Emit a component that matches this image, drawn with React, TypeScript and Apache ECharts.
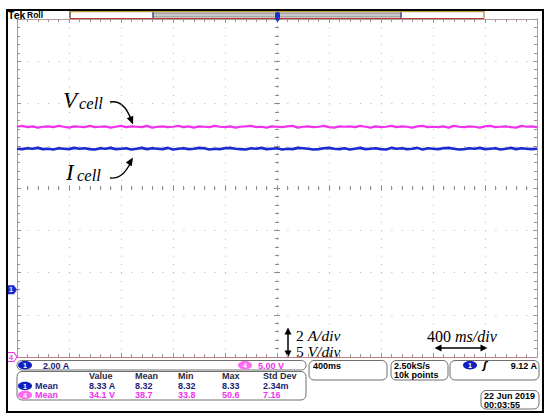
import React, { useEffect, useRef } from "react";
import * as echarts from "echarts";

// Oscilloscope capture: Tek, Roll mode, 400 ms/div, CH1 2 A/div, CH4 5 V/div
const CH1_SCALE = 2; // A/div
const CH4_SCALE = 5; // V/div
const CH1_GROUND_DIV = -2.41; // ground marker "1" position (div from centre)
const CH4_GROUND_DIV = -4; // ground marker "4" position
const T_START = -2; // s
const T_END = 2; // s

// Vcell (V) samples across the 4 s record
const vcell = [
  27.25, 27.35, 27.2, 27.3, 27.15, 27.25, 27.3, 27.2, 27.35, 27.25, 27.15, 27.3, 27.25, 27.2, 27.35,
  27.2, 27.25, 27.3, 27.15, 27.25, 27.35, 27.2, 27.3, 27.25, 27.2, 27.35, 27.15, 27.25, 27.3, 27.2,
  27.25, 27.35, 27.2, 27.3, 27.15, 27.3, 27.25, 27.2, 27.35, 27.25, 27.2, 27.3, 27.15, 27.25, 27.3,
  27.35, 27.2, 27.25, 27.15, 27.3, 27.25, 27.2, 27.3, 27.35, 27.15, 27.25, 27.3, 27.2, 27.25, 27.35,
  27.2, 27.15, 27.3, 27.25, 27.3, 27.2, 27.35, 27.25, 27.15, 27.3, 27.2, 27.25, 27.35, 27.2, 27.3,
  27.25, 27.15, 27.3, 27.35, 27.2, 27.25, 27.2, 27.3, 27.15, 27.35, 27.25, 27.2, 27.3, 27.25, 27.15,
  27.3, 27.35, 27.2, 27.25, 27.3, 27.2, 27.15, 27.35, 27.25, 27.3, 27.2,
];
// Icell (A) samples across the 4 s record
const icell = [
  6.68, 6.66, 6.7, 6.68, 6.72, 6.66, 6.68, 6.64, 6.7, 6.68, 6.66, 6.72, 6.68, 6.7, 6.66, 6.64, 6.7,
  6.68, 6.72, 6.66, 6.68, 6.7, 6.64, 6.68, 6.72, 6.66, 6.7, 6.68, 6.66, 6.72, 6.64, 6.68, 6.7, 6.66,
  6.68, 6.72, 6.7, 6.64, 6.68, 6.66, 6.7, 6.72, 6.68, 6.66, 6.64, 6.7, 6.68, 6.72, 6.66, 6.68, 6.7,
  6.64, 6.68, 6.66, 6.72, 6.7, 6.68, 6.64, 6.66, 6.7, 6.72, 6.68, 6.66, 6.7, 6.64, 6.68, 6.72, 6.66,
  6.68, 6.7, 6.66, 6.64, 6.72, 6.68, 6.7, 6.66, 6.68, 6.72, 6.64, 6.7, 6.68, 6.66, 6.7, 6.72, 6.68,
  6.64, 6.66, 6.7, 6.68, 6.72, 6.66, 6.68, 6.7, 6.64, 6.68, 6.72, 6.66, 6.7, 6.68, 6.66, 6.68,
];

const measHeaders = ["Value", "Mean", "Min", "Max", "Std Dev"];
const ch1Meas = ["8.33 A", "8.32", "8.32", "8.33", "2.34m"];
const ch4Meas = ["34.1 V", "38.7", "33.8", "50.6", "7.16"];
const ch1ScaleLabel = "2.00 A";
const ch4ScaleLabel = "5.00 V";
const timebaseLabel = "400ms";
const sampleLabels = ["2.50kS/s", "10k points"];
const triggerLabel = "9.12 A";
const dateLabels = ["22 Jun 2019", "00:03:55"];

const PINK = "#f032f0";
const BLUE = "#1a2ad0";
const NAVY = "#1c1c78";
const SANS = "Liberation Sans";
const SERIF = "Liberation Serif";

const toSeries = (vals: number[], scale: number, ground: number) =>
  vals.map((v, i) => [T_START + ((T_END - T_START) * i) / (vals.length - 1), v / scale + ground]);

function arrowHead(tip: [number, number], dir: [number, number], len = 8, half = 3.5) {
  const n = Math.hypot(dir[0], dir[1]);
  const dx = dir[0] / n, dy = dir[1] / n;
  const bx = tip[0] - dx * len, by = tip[1] - dy * len;
  return {
    type: "polygon",
    shape: { points: [tip, [bx - dy * half, by + dx * half], [bx + dy * half, by - dx * half]] },
    style: { fill: "#000" },
  };
}

const txt = (x: number, y: number, text: string, fill: string, extra: any = {}) => ({
  type: "text",
  x,
  y,
  style: {
    text,
    fill,
    font: `bold 9px ${SANS}`,
    verticalAlign: "middle",
    ...extra,
  },
});

const pill = (cx: number, cy: number, label: string, fill: string) => [
  { type: "ellipse", shape: { cx, cy, rx: 7, ry: 4.2 }, style: { fill } },
  {
    type: "text",
    x: cx,
    y: cy,
    style: { text: label, fill: "#fff", font: `bold 7px ${SANS}`, align: "center", verticalAlign: "middle" },
  },
];

const box = (x: number, y: number, w: number, h: number, r = 5) => ({
  type: "rect",
  shape: { x, y, width: w, height: h, r },
  style: { fill: "#fff", stroke: "#707070", lineWidth: 1 },
});

export default function App() {
  const ref = useRef<HTMLDivElement>(null);
  useEffect(() => {
    const chart = echarts.init(ref.current!, null, { renderer: "svg" });
    const tickColor = "#a09090";
    const centerTick = "#909090";
    const baseX = {
      type: "value",
      min: T_START,
      max: T_END,
      interval: 0.4,
      axisLabel: { show: false },
      splitLine: { show: false },
    };
    const baseY = {
      type: "value",
      min: -4,
      max: 4,
      interval: 1,
      axisLabel: { show: false },
      splitLine: { show: false },
    };
    const ticks = (inside: boolean, len: number, color = tickColor) => ({
      axisTick: { show: true, inside, length: len, lineStyle: { color } },
      minorTick: { show: true, splitNumber: 5, length: len - 1, lineStyle: { color } },
    });

    const colCols = [89, 135, 178, 222, 263];
    const graphic: any[] = [
      // outer frame
      { type: "rect", shape: { x: 7, y: 10, width: 536, height: 402 }, style: { fill: "none", stroke: "#000", lineWidth: 2 }, z: 100 },
      // Tek Roll
      { type: "text", x: 8, y: 14.5, style: { text: "Tek", fill: "#000", font: `bold 10.5px ${SANS}`, verticalAlign: "middle" } },
      { type: "text", x: 27, y: 14.5, style: { text: "Roll", fill: "#000", font: `bold 8.5px ${SANS}`, verticalAlign: "middle" } },
      { type: "line", shape: { x1: 70, y1: 10, x2: 70, y2: 18.5 }, style: { stroke: "#000", lineWidth: 1 } },
      // record bar
      { type: "line", shape: { x1: 70, y1: 11.5, x2: 484, y2: 11.5 }, style: { stroke: "#c89a40", lineWidth: 1.5 } },
      { type: "line", shape: { x1: 70, y1: 18.5, x2: 484, y2: 18.5 }, style: { stroke: "#c03838", lineWidth: 1 } },
      { type: "line", shape: { x1: 484, y1: 10, x2: 484, y2: 18.5 }, style: { stroke: "#b06040", lineWidth: 1 } },
      { type: "rect", shape: { x: 153, y: 13, width: 248, height: 4 }, style: { fill: "#c8c8c8", stroke: "#8a8a8a", lineWidth: 1 } },
      { type: "line", shape: { x1: 153, y1: 12, x2: 153, y2: 18 }, style: { stroke: "#304090", lineWidth: 1.2 } },
      { type: "line", shape: { x1: 401, y1: 12, x2: 401, y2: 18 }, style: { stroke: "#304090", lineWidth: 1.2 } },
      { type: "rect", shape: { x: 275, y: 12, width: 5, height: 7, r: 2 }, style: { fill: "#2030c8" }, z: 50 },
      { type: "polygon", shape: { points: [[274.5, 18.5], [280.5, 18.5], [277.5, 22]] }, style: { fill: "#2030c8" }, z: 50 },

      // annotations
      { type: "text", x: 63, y: 100.5, style: { text: "V", fill: "#000", font: `italic 23px ${SERIF}`, verticalAlign: "middle" } },
      { type: "text", x: 79, y: 103.5, style: { text: "cell", fill: "#000", font: `italic 16.5px ${SERIF}`, verticalAlign: "middle" } },
      { type: "text", x: 66, y: 172.5, style: { text: "I", fill: "#000", font: `italic 23px ${SERIF}`, verticalAlign: "middle" } },
      { type: "text", x: 77, y: 175.5, style: { text: "cell", fill: "#000", font: `italic 16.5px ${SERIF}`, verticalAlign: "middle" } },
      { type: "bezierCurve", shape: { x1: 110, y1: 102, cpx1: 121, cpy1: 100, cpx2: 127, cpy2: 109, x2: 130.5, y2: 118 }, style: { stroke: "#000", lineWidth: 1.4, fill: "none" } },
      arrowHead([133, 124.5], [4, 10]),
      { type: "bezierCurve", shape: { x1: 110, y1: 178, cpx1: 121, cpy1: 179, cpx2: 126, cpy2: 171, x2: 130, y2: 164 }, style: { stroke: "#000", lineWidth: 1.4, fill: "none" } },
      arrowHead([133, 157.5], [5, -8]),

      // scale annotations
      { type: "line", shape: { x1: 288, y1: 332, x2: 288, y2: 353 }, style: { stroke: "#000", lineWidth: 1.5 } },
      arrowHead([288, 327.5], [0, -1], 7, 3.5),
      arrowHead([288, 357.5], [0, 1], 7, 3.5),
      {
        type: "text", x: 296, y: 335,
        style: {
          text: "{n|2 }{i|A/div}", verticalAlign: "middle",
          rich: { n: { font: `15.5px ${SERIF}`, fill: "#000" }, i: { font: `italic 15.5px ${SERIF}`, fill: "#000" } },
        },
      },
      {
        type: "text", x: 296, y: 351,
        style: {
          text: "{n|5 }{i|V/div}", verticalAlign: "middle",
          rich: { n: { font: `15.5px ${SERIF}`, fill: "#000" }, i: { font: `italic 15.5px ${SERIF}`, fill: "#000" } },
        },
      },
      { type: "line", shape: { x1: 440, y1: 348, x2: 482, y2: 348 }, style: { stroke: "#000", lineWidth: 1.5 } },
      arrowHead([434.5, 348], [-1, 0], 7, 3.5),
      arrowHead([487.5, 348], [1, 0], 7, 3.5),
      {
        type: "text", x: 427, y: 336,
        style: {
          text: "{n|400 }{i|ms/div}", verticalAlign: "middle",
          rich: { n: { font: `16px ${SERIF}`, fill: "#000" }, i: { font: `italic 16px ${SERIF}`, fill: "#000" } },
        },
      },

      // bottom info area
      box(17, 360.5, 289, 9.5, 4.5),
      ...pill(25, 365.3, "1", "#1020c0"),
      txt(43, 365.5, ch1ScaleLabel, NAVY),
      ...pill(245, 365.3, "4", "#ff6af0"),
      txt(258, 365.5, ch4ScaleLabel, PINK),
      box(17, 371.5, 289, 28.5, 5),
      ...measHeaders.map((h, i) => txt(colCols[i], 376.3, h, "#2a2a40")),
      ...pill(25, 386, "1", "#1020c0"),
      txt(35, 386, "Mean", NAVY),
      ...ch1Meas.map((v, i) => txt(colCols[i], 386, v, NAVY)),
      ...pill(25, 395, "4", "#ff6af0"),
      txt(35, 395, "Mean", PINK),
      ...ch4Meas.map((v, i) => txt(colCols[i], 395, v, PINK)),
      box(309, 360.5, 78, 19.5, 5),
      txt(313, 365.5, timebaseLabel, "#000"),
      box(391, 360.5, 57, 19.5, 5),
      txt(394, 365.5, sampleLabels[0], "#000"),
      txt(394, 374.5, sampleLabels[1], "#000"),
      box(450, 360.5, 89, 19.5, 5),
      ...pill(470, 365.3, "1", "#1020c0"),
      txt(483, 365.5, "ʃ", "#000", { font: `italic bold 10px DejaVu Sans` }),
      txt(537, 365.5, triggerLabel, "#000", { align: "right" }),
      box(481, 390.5, 58, 18.5, 5),
      txt(484, 395.5, dateLabels[0], "#000"),
      txt(484, 404.5, dateLabels[1], "#000"),
    ];

    chart.setOption({
      animation: false,
      backgroundColor: "#fff",
      grid: { left: 17, top: 19, width: 520, height: 338, show: false },
      xAxis: [
        {
          ...baseX,
          position: "bottom",
          axisLine: { onZero: false, lineStyle: { color: "#c08080", width: 1 } },
          ...ticks(true, 4),
          splitLine: { show: true, lineStyle: { color: "#b4b4b4", width: 1, type: [1, 7.45] } },
        },
        { ...baseX, position: "top", axisLine: { onZero: false, lineStyle: { color: "#b09a9a" } }, ...ticks(true, 4) },
        { ...baseX, position: "bottom", axisLine: { onZero: true, onZeroAxisIndex: 0, lineStyle: { color: "#c0c0c0", type: [1, 9.4] } }, ...ticks(true, 3, centerTick) },
        { ...baseX, position: "bottom", axisLine: { onZero: true, onZeroAxisIndex: 0, show: false }, ...ticks(false, 3, centerTick) },
      ],
      yAxis: [
        {
          ...baseY,
          position: "left",
          axisLine: { onZero: false, lineStyle: { color: "#b09a9a" } },
          ...ticks(true, 4),
          splitLine: { show: true, lineStyle: { color: "#b4b4b4", width: 1, type: [1, 9.4] } },
        },
        { ...baseY, position: "right", axisLine: { onZero: false, lineStyle: { color: "#b09a9a" } }, ...ticks(true, 4) },
        { ...baseY, position: "left", axisLine: { onZero: true, onZeroAxisIndex: 0, lineStyle: { color: "#c0c0c0", type: [1, 7.45] } }, ...ticks(true, 3, centerTick) },
        { ...baseY, position: "left", axisLine: { onZero: true, onZeroAxisIndex: 0, show: false }, ...ticks(false, 3, centerTick) },
      ],
      series: [
        {
          type: "line",
          name: "Vcell",
          xAxisIndex: 0,
          yAxisIndex: 0,
          data: toSeries(vcell, CH4_SCALE, CH4_GROUND_DIV),
          showSymbol: false,
          lineStyle: { color: PINK, width: 2.2 },
          z: 5,
          markPoint: {
            symbol: "path://M0,0 L7,0 L10,5 L7,10 L0,10 Z",
            symbolSize: [10, 9],
            symbolOffset: [-5, 0],
            itemStyle: { color: "#fff", borderColor: PINK, borderWidth: 1 },
            label: { show: true, formatter: "4", color: PINK, fontSize: 7, fontWeight: "bold", fontFamily: SANS, offset: [-1, 0] },
            data: [{ coord: [T_START, CH4_GROUND_DIV] }],
          },
        },
        {
          type: "line",
          name: "Icell",
          xAxisIndex: 0,
          yAxisIndex: 0,
          data: toSeries(icell, CH1_SCALE, CH1_GROUND_DIV),
          showSymbol: false,
          lineStyle: { color: BLUE, width: 2.6 },
          z: 6,
          markPoint: {
            symbol: "path://M0,0 L7,0 L10,5 L7,10 L0,10 Z",
            symbolSize: [10, 9],
            symbolOffset: [-5, 0],
            itemStyle: { color: "#1a2ad0" },
            label: { show: true, formatter: "1", color: "#fff", fontSize: 7, fontWeight: "bold", fontFamily: SANS, offset: [-1, 0] },
            data: [{ coord: [T_START, CH1_GROUND_DIV] }],
          },
        },
      ],
      graphic,
    });
    return () => chart.dispose();
  }, []);
  return <div ref={ref} style={{ position: "fixed", left: 0, top: 0, width: 550, height: 420 }} />;
}
